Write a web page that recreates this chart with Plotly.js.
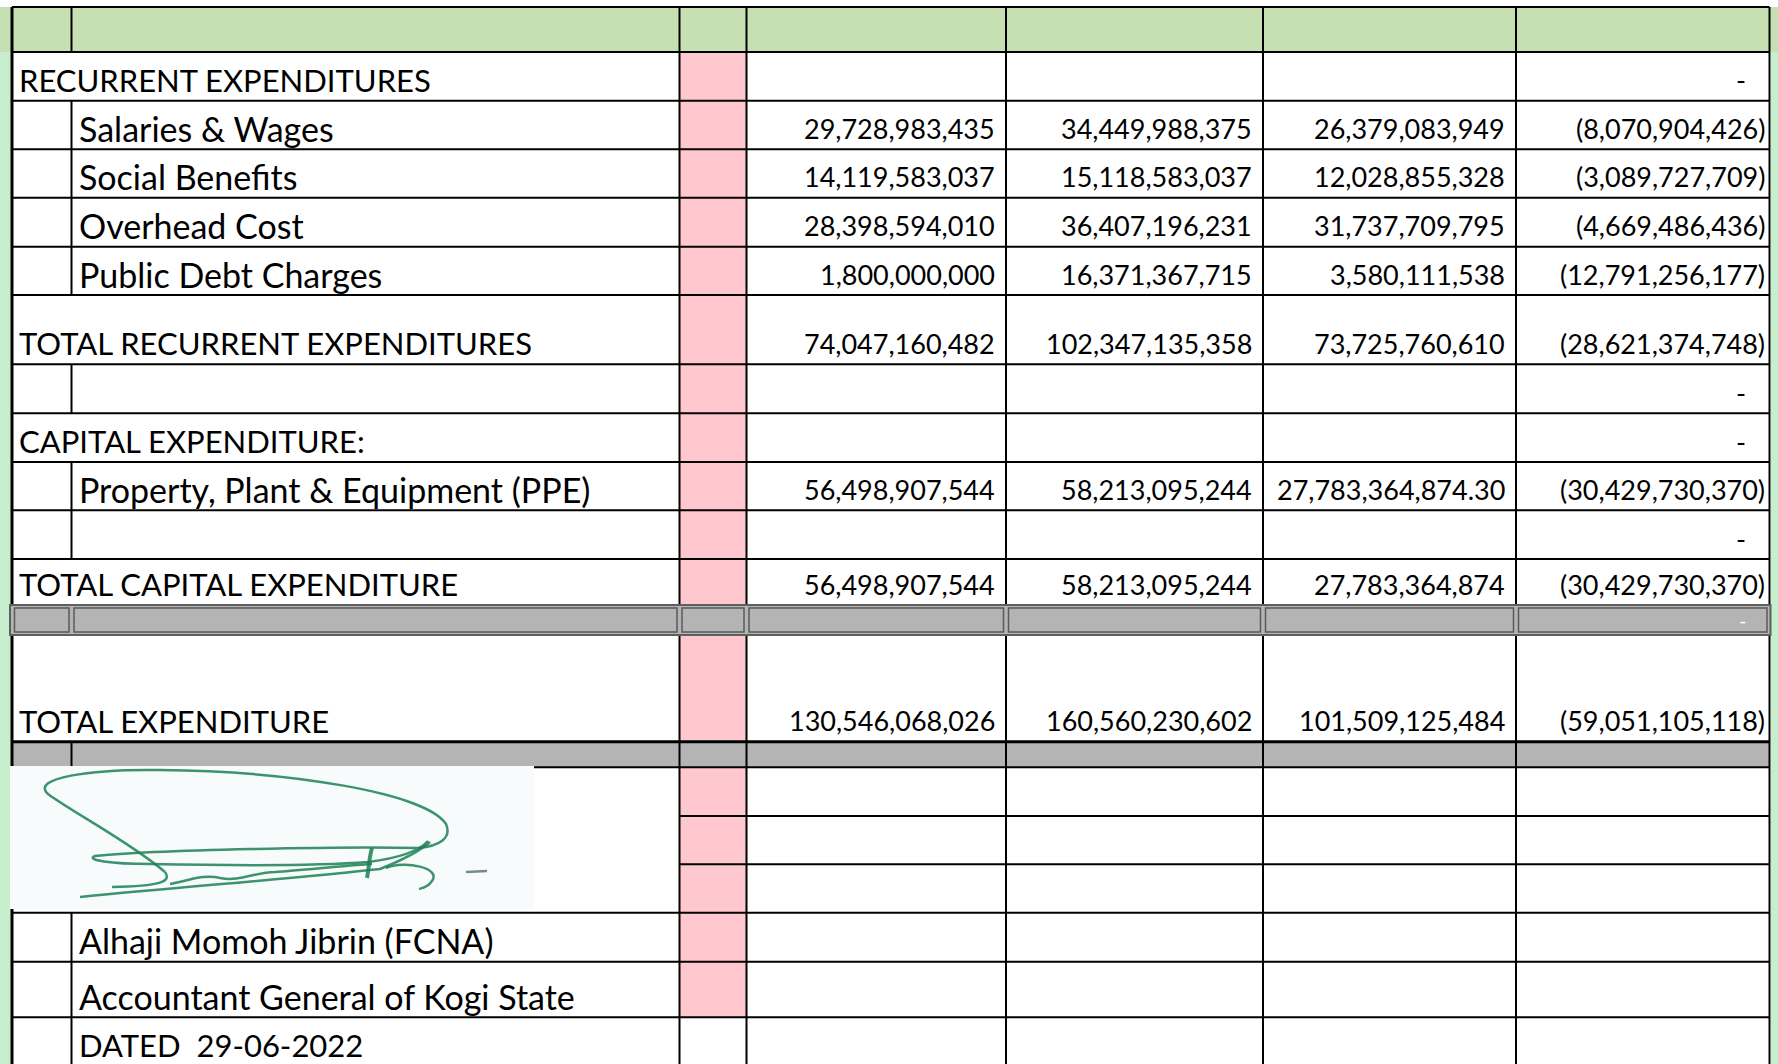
<!DOCTYPE html>
<html>
<head>
<meta charset="utf-8">
<script src="https://cdn.plot.ly/plotly-3.0.1.min.js"></script>
<style>
  html, body { margin: 0; padding: 0; background: #ffffff; }
  #chart { width: 1778px; height: 1064px; }
</style>
</head>
<body>
<div id="chart"></div>
<script>
// ---------------- DATA ----------------
const rowLabels = [
  "", "RECURRENT EXPENDITURES", "Salaries & Wages", "Social Benefits", "Overhead Cost",
  "Public Debt Charges", "TOTAL RECURRENT EXPENDITURES", "", "CAPITAL EXPENDITURE:",
  "Property, Plant & Equipment (PPE)", "", "TOTAL CAPITAL EXPENDITURE", "", "TOTAL EXPENDITURE",
  "", "", "", "", "Alhaji Momoh Jibrin (FCNA)", "Accountant General of Kogi State", "DATED\u00A0 29-06-2022"
];
const col1Values = [null, null, 29728983435, 14119583037, 28398594010, 1800000000, 74047160482,
  null, null, 56498907544, null, 56498907544, null, 130546068026, null, null, null, null, null, null, null];
const col2Values = [null, null, 34449988375, 15118583037, 36407196231, 16371367715, 102347135358,
  null, null, 58213095244, null, 58213095244, null, 160560230602, null, null, null, null, null, null, null];
const col3Values = [null, null, 26379083949, 12028855328, 31737709795, 3580111538, 73725760610,
  null, null, 27783364874.30, null, 27783364874, null, 101509125484, null, null, null, null, null, null, null];
const varianceValues = [null, 0, -8070904426, -3089727709, -4669486436, -12791256177, -28621374748,
  0, 0, -30429730370, 0, -30429730370, 0, -59051105118, null, null, null, null, null, null, null];

// ---------------- LAYOUT GEOMETRY (pixels) ----------------
const W = 1778, H = 1064;
const colX = [12, 71.5, 679.5, 746.5, 1006, 1263, 1516, 1769.5];
const rowY = [7, 52, 100.7, 149.3, 197.7, 246.7, 295, 364.3, 413.3, 462, 510.3, 559, 605, 635,
  741.7, 767.3, 816, 864.3, 912.7, 961.7, 1017.3, 1066];
const mergedRows = [1, 6, 8, 11, 13];
const sigRows = [15, 16, 17];
const band1 = 12, band2 = 14;

const GREEN = '#c6e0b4', MINT = '#c6efce', PINK = '#ffc7ce', GRAY = '#b4b4b4';
const FAMILY = 'Lato, "Open Sans", sans-serif';
const CAPS_FONT = {family: FAMILY, size: 31, color: '#000'};
const MIXED_FONT = {family: FAMILY, size: 34, color: '#000'};
const NUM_FONT = {family: FAMILY, size: 27, color: '#000'};

function fmt(v) {
  if (v === null || v === undefined) return '';
  if (v === 0) return '-';
  const a = Math.abs(v);
  const s = Number.isInteger(a) ? a.toLocaleString('en-US')
    : a.toLocaleString('en-US', {minimumFractionDigits: 2, maximumFractionDigits: 2});
  return v < 0 ? '(' + s + ')' : s;
}

const shapes = [];
function rect(x0, y0, x1, y1, fill, line) {
  shapes.push({type: 'rect', xref: 'x', yref: 'y', x0, y0, x1, y1,
    fillcolor: fill, line: line || {width: 0}, layer: 'above'});
}
function seg(x0, y0, x1, y1, color, width) {
  shapes.push({type: 'line', xref: 'x', yref: 'y', x0, y0, x1, y1,
    line: {color: color || '#000', width: width || 2}, layer: 'above'});
}

// fills
rect(0, rowY[0], W, rowY[1], GREEN);
rect(0, rowY[1], colX[0] - 1, H, MINT);
rect(colX[7] + 1.5, rowY[1], W, H, MINT);
rect(colX[2], rowY[1], colX[3], rowY[20], PINK);
rect(colX[0], rowY[band2], colX[7], rowY[band2 + 1], GRAY);

// horizontal lines
for (let i = 0; i < rowY.length - 1; i++) {
  const y = rowY[i];
  let xs = colX[0];
  if (i === 16 || i === 17) xs = colX[2];
  seg(xs, y, colX[7], y, '#000', (i === band2) ? 3 : 2);
}
// vertical lines
seg(colX[0], rowY[0], colX[0], H, '#000', 3);
for (let c = 2; c < colX.length; c++) seg(colX[c], rowY[0], colX[c], H, '#000', 2);
for (let r = 0; r < rowY.length - 1; r++) {
  if (mergedRows.includes(r) || sigRows.includes(r)) continue;
  seg(colX[1], rowY[r], colX[1], Math.min(rowY[r + 1], H), '#000', 2);
}

// upper gray band with double-line cell borders
rect(colX[0] - 2, rowY[band1], colX[7] + 1, rowY[band1 + 1], GRAY, {color: '#5f5f5f', width: 2});
for (let c = 0; c < colX.length - 1; c++) {
  rect(colX[c] + 2.5, rowY[band1] + 3, colX[c + 1] - 2.5, rowY[band1 + 1] - 3, 'rgba(0,0,0,0)',
    {color: '#5a5a5a', width: 1.5});
}

// signature area
rect(10, 766, 534, 909, '#f7fbfb');
const SIG = 'rgba(28,128,84,0.85)';
const sigPaths = [
  'M 165 872 C 130 842, 72 812, 48 794 C 30 778, 90 769, 160 770 C 285 771, 425 792, 446 824 C 452 838, 440 846, 418 848',
  'M 165 872 C 172 882, 160 886, 112 887',
  'M 418 848 C 350 846, 150 850, 95 856 C 85 860, 110 864, 150 864 C 250 866, 330 865, 368 862 C 400 858, 420 850, 428 841',
  'M 80 897 C 180 887, 300 878, 380 869 C 400 861, 420 851, 430 842',
  'M 170 884 C 190 880, 205 874, 220 878 C 240 882, 255 872, 275 872 C 305 870, 340 866, 372 864',
  'M 372 848 C 369 858, 369 868, 367 878',
  'M 386 868 C 405 860, 442 868, 432 881 C 428 887, 423 888, 419 889',
  'M 466 872 L 487 871'
];
sigPaths.forEach((p, i) => shapes.push({type: 'path', xref: 'x', yref: 'y', path: p,
  line: {color: i === 7 ? 'rgba(90,110,110,0.8)' : SIG, width: i === 5 ? 4 : 2.5}, layer: 'above'}));

// ---------------- TEXT ----------------
const annotations = [];
rowLabels.forEach((t, r) => {
  if (!t) return;
  const merged = mergedRows.includes(r);
  const isCaps = t === t.toUpperCase();
  annotations.push({x: merged ? 17 : 77, y: rowY[r + 1] - 21, xref: 'x', yref: 'y', text: t,
    showarrow: false, xanchor: 'left', yanchor: 'middle', font: isCaps ? CAPS_FONT : MIXED_FONT});
});
const valueCols = [col1Values, col2Values, col3Values, varianceValues];
valueCols.forEach((arr, ci) => {
  const right = colX[ci + 4];
  arr.forEach((v, r) => {
    if (v === null) return;
    const txt = fmt(v);
    let x = right - 9;
    if (v < 0) x = right - 3;
    if (v === 0) x = right - 22;
    const isBand = (r === band1);
    annotations.push({x, y: isBand ? (rowY[r] + rowY[r + 1]) / 2 : rowY[r + 1] - 21,
      xref: 'x', yref: 'y', text: txt, showarrow: false, xanchor: 'right', yanchor: 'middle',
      font: Object.assign({}, NUM_FONT, isBand ? {color: '#ffffff', size: 20} : {})});
  });
});

const layout = {
  width: W, height: H,
  margin: {l: 0, r: 0, t: 0, b: 0, pad: 0},
  paper_bgcolor: '#ffffff', plot_bgcolor: '#ffffff',
  xaxis: {range: [0, W], visible: false, fixedrange: true},
  yaxis: {range: [H, 0], visible: false, fixedrange: true},
  showlegend: false,
  shapes, annotations
};
Plotly.newPlot('chart', [], layout, {staticPlot: true, displayModeBar: false});
</script>
</body>
</html>
